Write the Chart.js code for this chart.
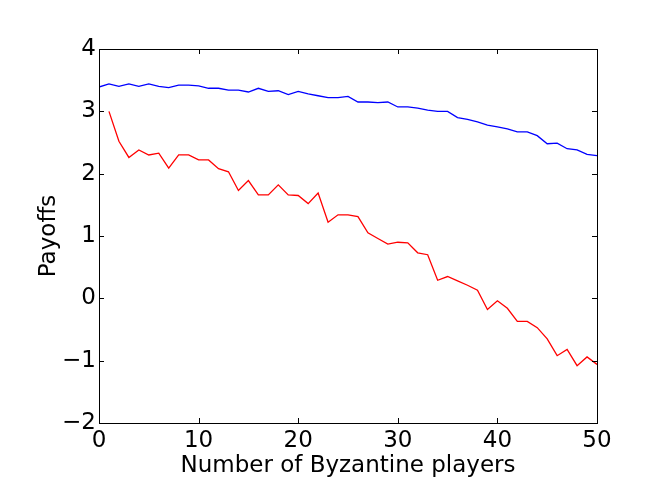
<!DOCTYPE html>
<html>
<head>
<meta charset="utf-8">
<title>Payoffs vs Byzantine players</title>
<script src="https://cdn.jsdelivr.net/npm/chart.js@4"></script>
<style>
    html, body { margin: 0; padding: 0; background: #fff; }
    #wrap { width: 664px; height: 498px; }
</style>
</head>
<body>
<div id="wrap"><canvas id="payoffChart" width="664" height="498"></canvas></div>
<script>
/* ==================================================
   PAYOFF CHART DATA
================================================== */

// Number of Byzantine players (x axis)
const players = [0, 1, 2, 3, 4, 5, 6, 7, 8, 9, 10, 11, 12, 13, 14, 15, 16, 17, 18, 19, 20,
    21, 22, 23, 24, 25, 26, 27, 28, 29, 30, 31, 32, 33, 34, 35, 36, 37, 38, 39, 40,
    41, 42, 43, 44, 45, 46, 47, 48, 49, 50];

// Blue series: starts at 0 players
const bluePayoffs = [3.39, 3.44, 3.40, 3.44, 3.40, 3.44, 3.40, 3.38, 3.42, 3.42, 3.41,
    3.37, 3.37, 3.34, 3.34, 3.31, 3.37, 3.32, 3.33, 3.27, 3.32,
    3.28, 3.25, 3.22, 3.22, 3.24, 3.15, 3.15, 3.14, 3.15, 3.07,
    3.07, 3.05, 3.02, 3.00, 3.00, 2.90, 2.87, 2.83, 2.78, 2.75,
    2.72, 2.67, 2.67, 2.61, 2.48, 2.49, 2.40, 2.38, 2.31, 2.29];

// Red series: starts at 1 player
const redPayoffs = [3.00, 2.52, 2.26, 2.38, 2.30, 2.33, 2.09, 2.30, 2.30, 2.22,
    2.22, 2.08, 2.03, 1.73, 1.89, 1.66, 1.66, 1.82, 1.66, 1.65,
    1.52, 1.69, 1.22, 1.34, 1.34, 1.31, 1.05, 0.96, 0.87, 0.90,
    0.89, 0.73, 0.70, 0.29, 0.35, 0.28, 0.21, 0.13, -0.18, -0.04,
    -0.16, -0.37, -0.37, -0.47, -0.65, -0.92, -0.82, -1.08, -0.94, -1.06];

const xTicks = [0, 10, 20, 30, 40, 50];
const yTicks = [-2, -1, 0, 1, 2, 3, 4];

const FONT = { family: 'DejaVu Sans', size: 23 };

// 1. Frame + inward ticks on all four sides (matplotlib classic look)
const framePlugin = {
    id: 'frame',
    afterDraw(chart) {
        const { ctx, chartArea: a, scales } = chart;
        const tick = 5;
        ctx.save();
        ctx.strokeStyle = '#000';
        ctx.lineWidth = 1;
        ctx.beginPath();
        xTicks.forEach(v => {
            const px = Math.round(scales.x.getPixelForValue(v)) + 0.5;
            ctx.moveTo(px, a.bottom); ctx.lineTo(px, a.bottom - tick);
            ctx.moveTo(px, a.top); ctx.lineTo(px, a.top + tick);
        });
        yTicks.forEach(v => {
            const py = Math.round(scales.y.getPixelForValue(v)) + 0.5;
            ctx.moveTo(a.left, py); ctx.lineTo(a.left + tick, py);
            ctx.moveTo(a.right, py); ctx.lineTo(a.right - tick, py);
        });
        ctx.stroke();
        ctx.strokeRect(Math.round(a.left) + 0.5, Math.round(a.top) + 0.5,
            Math.round(a.right - a.left), Math.round(a.bottom - a.top));
        ctx.restore();
    }
};

const minusLabel = v => (v < 0 ? '\u2212' + Math.abs(v) : String(v));

// 2. Chart
const ctx = document.getElementById('payoffChart');
new Chart(ctx, {
    type: 'line',
    data: {
        datasets: [{
            label: 'blue',
            data: players.map((p, i) => ({ x: p, y: bluePayoffs[i] })),
            borderColor: '#0000ff',
            borderWidth: 1.3,
            pointRadius: 0,
            tension: 0,
            fill: false
        },
        {
            label: 'red',
            data: players.slice(1).map((p, i) => ({ x: p, y: redPayoffs[i] })),
            borderColor: '#ff0000',
            borderWidth: 1.3,
            pointRadius: 0,
            tension: 0,
            fill: false
        }]
    },
    options: {
        responsive: false,
        devicePixelRatio: 1,
        animation: false,
        layout: { padding: { top: 49, right: 67, left: 0, bottom: 0 } },
        plugins: { legend: { display: false }, tooltip: { enabled: false } },
        scales: {
            x: {
                type: 'linear',
                min: 0, max: 50,
                afterBuildTicks: s => { s.ticks = xTicks.map(v => ({ value: v })); },
                afterFit: s => { s.height = 75; },
                grid: { display: false, drawTicks: false },
                border: { display: false },
                ticks: { font: FONT, color: '#000', padding: 4, maxRotation: 0, callback: minusLabel },
                title: { display: true, text: 'Number of Byzantine players', font: FONT, color: '#000', padding: { top: 0, bottom: 18 } }
            },
            y: {
                type: 'linear',
                min: -2, max: 4,
                afterBuildTicks: s => { s.ticks = yTicks.map(v => ({ value: v })); },
                afterFit: s => { s.width = 99; },
                grid: { display: false, drawTicks: false },
                border: { display: false },
                ticks: { font: FONT, color: '#000', padding: 3, callback: minusLabel },
                title: { display: true, text: 'Payoffs', font: FONT, color: '#000', padding: { top: 35, bottom: 0 } }
            }
        }
    },
    plugins: [framePlugin]
});
</script>
</body>
</html>
